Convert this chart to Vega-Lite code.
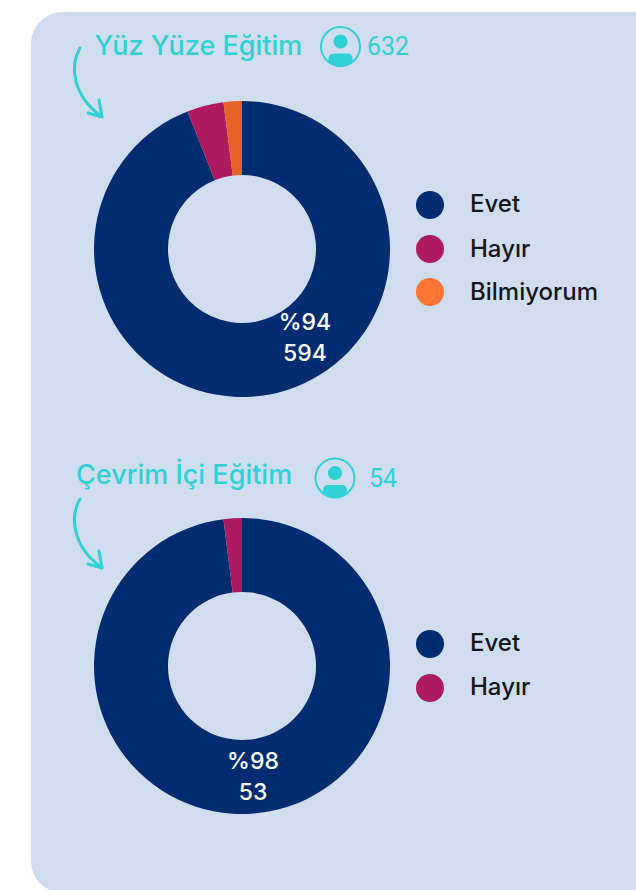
{
"$schema":"https://vega.github.io/schema/vega-lite/v6.json",
"width":636,"height":890,"padding":0,
"autosize":{"type":"fit","contains":"padding"},
"background":"#ffffff",
"config":{"view":{"stroke":null},"text":{"font":"Inter"}},
"datasets":{
"oran":[
{"panel":"Yüz Yüze Eğitim","kategori":"Evet","sira":1,"oran":94,"sayi":594,"yuzde":"%94"},
{"panel":"Yüz Yüze Eğitim","kategori":"Hayır","sira":2,"oran":4,"sayi":25,"yuzde":"%4"},
{"panel":"Yüz Yüze Eğitim","kategori":"Bilmiyorum","sira":3,"oran":2,"sayi":13,"yuzde":"%2"},
{"panel":"Çevrim İçi Eğitim","kategori":"Evet","sira":1,"oran":98,"sayi":53,"yuzde":"%98"},
{"panel":"Çevrim İçi Eğitim","kategori":"Hayır","sira":2,"oran":2,"sayi":1,"yuzde":"%2"}
],
"baslik":[
{"panel":"Yüz Yüze Eğitim","n":632},
{"panel":"Çevrim İçi Eğitim","n":54}
]},
"data":{"name":"oran"},
"layer":[
{"data":{"name":"baslik"},"transform":[{"filter":"datum.n==632"}],
"mark":{"type":"rect","fill":"#D0DDEF","cornerRadius":32,"clip":true},
"encoding":{
"x":{"datum":31,"type":"quantitative","scale":{"domain":[0,636]},"axis":null},
"x2":{"datum":720},
"y":{"datum":12,"type":"quantitative","scale":{"domain":[0,890],"reverse":true},"axis":null},
"y2":{"datum":893}}},
{"transform":[{"filter":"datum.panel=='Yüz Yüze Eğitim'"}],
"mark":{"type":"arc","innerRadius":74,"outerRadius":148},
"encoding":{
"x":{"datum":242,"type":"quantitative","scale":{"domain":[0,636]},"axis":null},
"y":{"datum":249,"type":"quantitative","scale":{"domain":[0,890],"reverse":true},"axis":null},
"theta":{"field":"oran","type":"quantitative","stack":"normalize"},
"order":{"field":"sira"},
"color":{"field":"kategori","type":"nominal","legend":null,"scale":{"domain":["Evet","Hayır","Bilmiyorum"],"range":["#002D72","#AE1A60","#E8602A"]}}}},
{"transform":[{"filter":"datum.panel=='Çevrim İçi Eğitim'"}],
"mark":{"type":"arc","innerRadius":74,"outerRadius":148},
"encoding":{
"x":{"datum":242,"type":"quantitative","scale":{"domain":[0,636]},"axis":null},
"y":{"datum":666,"type":"quantitative","scale":{"domain":[0,890],"reverse":true},"axis":null},
"theta":{"field":"oran","type":"quantitative","stack":"normalize"},
"order":{"field":"sira"},
"color":{"field":"kategori","type":"nominal","legend":null,"scale":{"domain":["Evet","Hayır","Bilmiyorum"],"range":["#002D72","#AE1A60","#E8602A"]}}}},

{"transform":[{"filter":"datum.sira==1 && datum.panel=='Yüz Yüze Eğitim'"}],"mark":{"type":"text","fill":"#ffffff","fontSize":23,"fontWeight":500,"align":"center","baseline":"middle"},
"encoding":{"x":{"datum":305,"type":"quantitative","scale":{"domain":[0,636]},"axis":null},"y":{"datum":323,"type":"quantitative","scale":{"domain":[0,890],"reverse":true},"axis":null},"text":{"field":"yuzde"}}},
{"transform":[{"filter":"datum.sira==1 && datum.panel=='Yüz Yüze Eğitim'"}],"mark":{"type":"text","fill":"#ffffff","fontSize":23,"fontWeight":500,"align":"center","baseline":"middle"},
"encoding":{"x":{"datum":305,"type":"quantitative","scale":{"domain":[0,636]},"axis":null},"y":{"datum":354,"type":"quantitative","scale":{"domain":[0,890],"reverse":true},"axis":null},"text":{"field":"sayi"}}},
{"transform":[{"filter":"datum.sira==1 && datum.panel=='Çevrim İçi Eğitim'"}],"mark":{"type":"text","fill":"#ffffff","fontSize":23,"fontWeight":500,"align":"center","baseline":"middle"},
"encoding":{"x":{"datum":253,"type":"quantitative","scale":{"domain":[0,636]},"axis":null},"y":{"datum":762,"type":"quantitative","scale":{"domain":[0,890],"reverse":true},"axis":null},"text":{"field":"yuzde"}}},
{"transform":[{"filter":"datum.sira==1 && datum.panel=='Çevrim İçi Eğitim'"}],"mark":{"type":"text","fill":"#ffffff","fontSize":23,"fontWeight":500,"align":"center","baseline":"middle"},
"encoding":{"x":{"datum":253,"type":"quantitative","scale":{"domain":[0,636]},"axis":null},"y":{"datum":793,"type":"quantitative","scale":{"domain":[0,890],"reverse":true},"axis":null},"text":{"field":"sayi"}}},

{"transform":[{"filter":"datum.sira==1 && datum.panel=='Yüz Yüze Eğitim'"}],"mark":{"type":"point","shape":"circle","filled":true,"size":784,"opacity":1},
"encoding":{"x":{"datum":430,"type":"quantitative","scale":{"domain":[0,636]},"axis":null},"y":{"datum":205,"type":"quantitative","scale":{"domain":[0,890],"reverse":true},"axis":null},"fill":{"field":"kategori","type":"nominal","legend":null,"scale":{"domain":["Evet","Hayır","Bilmiyorum"],"range":["#002D72","#AE1A60","#FF7433"]}}}},
{"transform":[{"filter":"datum.sira==2 && datum.panel=='Yüz Yüze Eğitim'"}],"mark":{"type":"point","shape":"circle","filled":true,"size":784,"opacity":1},
"encoding":{"x":{"datum":430,"type":"quantitative","scale":{"domain":[0,636]},"axis":null},"y":{"datum":249,"type":"quantitative","scale":{"domain":[0,890],"reverse":true},"axis":null},"fill":{"field":"kategori","type":"nominal","legend":null,"scale":{"domain":["Evet","Hayır","Bilmiyorum"],"range":["#002D72","#AE1A60","#FF7433"]}}}},
{"transform":[{"filter":"datum.sira==3 && datum.panel=='Yüz Yüze Eğitim'"}],"mark":{"type":"point","shape":"circle","filled":true,"size":784,"opacity":1},
"encoding":{"x":{"datum":430,"type":"quantitative","scale":{"domain":[0,636]},"axis":null},"y":{"datum":292,"type":"quantitative","scale":{"domain":[0,890],"reverse":true},"axis":null},"fill":{"field":"kategori","type":"nominal","legend":null,"scale":{"domain":["Evet","Hayır","Bilmiyorum"],"range":["#002D72","#AE1A60","#FF7433"]}}}},
{"transform":[{"filter":"datum.sira==1 && datum.panel=='Çevrim İçi Eğitim'"}],"mark":{"type":"point","shape":"circle","filled":true,"size":784,"opacity":1},
"encoding":{"x":{"datum":430,"type":"quantitative","scale":{"domain":[0,636]},"axis":null},"y":{"datum":644,"type":"quantitative","scale":{"domain":[0,890],"reverse":true},"axis":null},"fill":{"field":"kategori","type":"nominal","legend":null,"scale":{"domain":["Evet","Hayır","Bilmiyorum"],"range":["#002D72","#AE1A60","#FF7433"]}}}},
{"transform":[{"filter":"datum.sira==2 && datum.panel=='Çevrim İçi Eğitim'"}],"mark":{"type":"point","shape":"circle","filled":true,"size":784,"opacity":1},
"encoding":{"x":{"datum":430,"type":"quantitative","scale":{"domain":[0,636]},"axis":null},"y":{"datum":688,"type":"quantitative","scale":{"domain":[0,890],"reverse":true},"axis":null},"fill":{"field":"kategori","type":"nominal","legend":null,"scale":{"domain":["Evet","Hayır","Bilmiyorum"],"range":["#002D72","#AE1A60","#FF7433"]}}}},

{"transform":[{"filter":"datum.sira==1 && datum.panel=='Yüz Yüze Eğitim'"}],"mark":{"type":"text","fill":"#14161C","fontSize":24,"fontWeight":500,"align":"left","baseline":"middle"},
"encoding":{"x":{"datum":470,"type":"quantitative","scale":{"domain":[0,636]},"axis":null},"y":{"datum":205,"type":"quantitative","scale":{"domain":[0,890],"reverse":true},"axis":null},"text":{"field":"kategori"}}},
{"transform":[{"filter":"datum.sira==2 && datum.panel=='Yüz Yüze Eğitim'"}],"mark":{"type":"text","fill":"#14161C","fontSize":24,"fontWeight":500,"align":"left","baseline":"middle"},
"encoding":{"x":{"datum":470,"type":"quantitative","scale":{"domain":[0,636]},"axis":null},"y":{"datum":250,"type":"quantitative","scale":{"domain":[0,890],"reverse":true},"axis":null},"text":{"field":"kategori"}}},
{"transform":[{"filter":"datum.sira==3 && datum.panel=='Yüz Yüze Eğitim'"}],"mark":{"type":"text","fill":"#14161C","fontSize":24,"fontWeight":500,"align":"left","baseline":"middle"},
"encoding":{"x":{"datum":470,"type":"quantitative","scale":{"domain":[0,636]},"axis":null},"y":{"datum":293,"type":"quantitative","scale":{"domain":[0,890],"reverse":true},"axis":null},"text":{"field":"kategori"}}},
{"transform":[{"filter":"datum.sira==1 && datum.panel=='Çevrim İçi Eğitim'"}],"mark":{"type":"text","fill":"#14161C","fontSize":24,"fontWeight":500,"align":"left","baseline":"middle"},
"encoding":{"x":{"datum":470,"type":"quantitative","scale":{"domain":[0,636]},"axis":null},"y":{"datum":644,"type":"quantitative","scale":{"domain":[0,890],"reverse":true},"axis":null},"text":{"field":"kategori"}}},
{"transform":[{"filter":"datum.sira==2 && datum.panel=='Çevrim İçi Eğitim'"}],"mark":{"type":"text","fill":"#14161C","fontSize":24,"fontWeight":500,"align":"left","baseline":"middle"},
"encoding":{"x":{"datum":470,"type":"quantitative","scale":{"domain":[0,636]},"axis":null},"y":{"datum":688,"type":"quantitative","scale":{"domain":[0,890],"reverse":true},"axis":null},"text":{"field":"kategori"}}},

{"data":{"name":"baslik"},"transform":[{"filter":"datum.n==632"}],"mark":{"type":"text","fill":"#2FD0D6","fontSize":27,"fontWeight":500,"align":"left","baseline":"alphabetic"},
"encoding":{"x":{"datum":94.5,"type":"quantitative","scale":{"domain":[0,636]},"axis":null},"y":{"datum":55,"type":"quantitative","scale":{"domain":[0,890],"reverse":true},"axis":null},"text":{"field":"panel"}}},
{"data":{"name":"baslik"},"transform":[{"filter":"datum.n==54"}],"mark":{"type":"text","fill":"#2FD0D6","fontSize":27,"fontWeight":500,"align":"left","baseline":"alphabetic"},
"encoding":{"x":{"datum":76,"type":"quantitative","scale":{"domain":[0,636]},"axis":null},"y":{"datum":484,"type":"quantitative","scale":{"domain":[0,890],"reverse":true},"axis":null},"text":{"field":"panel"}}},
{"data":{"name":"baslik"},"transform":[{"filter":"datum.n==632"}],"mark":{"type":"text","fill":"#2FD0D6","font":"Roboto","fontSize":25,"align":"left","baseline":"alphabetic"},
"encoding":{"x":{"datum":367,"type":"quantitative","scale":{"domain":[0,636]},"axis":null},"y":{"datum":55,"type":"quantitative","scale":{"domain":[0,890],"reverse":true},"axis":null},"text":{"field":"n"}}},
{"data":{"name":"baslik"},"transform":[{"filter":"datum.n==54"}],"mark":{"type":"text","fill":"#2FD0D6","font":"Roboto","fontSize":25,"align":"left","baseline":"alphabetic"},
"encoding":{"x":{"datum":369,"type":"quantitative","scale":{"domain":[0,636]},"axis":null},"y":{"datum":487,"type":"quantitative","scale":{"domain":[0,890],"reverse":true},"axis":null},"text":{"field":"n"}}},

{"data":{"name":"baslik"},"transform":[{"filter":"datum.n==632"}],"mark":{"type":"point","shape":"circle","filled":false,"size":1521,"stroke":"#2FD0D6","strokeWidth":2,"opacity":1},
"encoding":{"x":{"datum":340.5,"type":"quantitative","scale":{"domain":[0,636]},"axis":null},"y":{"datum":46.5,"type":"quantitative","scale":{"domain":[0,890],"reverse":true},"axis":null}}},
{"data":{"name":"baslik"},"transform":[{"filter":"datum.n==54"}],"mark":{"type":"point","shape":"circle","filled":false,"size":1521,"stroke":"#2FD0D6","strokeWidth":2,"opacity":1},
"encoding":{"x":{"datum":335,"type":"quantitative","scale":{"domain":[0,636]},"axis":null},"y":{"datum":478,"type":"quantitative","scale":{"domain":[0,890],"reverse":true},"axis":null}}},
{"data":{"name":"baslik"},"transform":[{"filter":"datum.n==632"}],"mark":{"type":"point","shape":"M -0.35 -0.25 A 0.35 0.35 0 1 1 0.35 -0.25 A 0.35 0.35 0 1 1 -0.35 -0.25 Z M -0.6 0.72 L -0.6 0.6 Q -0.6 0.35 -0.3 0.35 L 0.3 0.35 Q 0.6 0.35 0.6 0.6 L 0.6 0.72 Q 0 1.2 -0.6 0.72 Z","filled":true,"size":1600,"fill":"#2FD0D6","opacity":1},
"encoding":{"x":{"datum":340.5,"type":"quantitative","scale":{"domain":[0,636]},"axis":null},"y":{"datum":46.5,"type":"quantitative","scale":{"domain":[0,890],"reverse":true},"axis":null}}},
{"data":{"name":"baslik"},"transform":[{"filter":"datum.n==54"}],"mark":{"type":"point","shape":"M -0.35 -0.25 A 0.35 0.35 0 1 1 0.35 -0.25 A 0.35 0.35 0 1 1 -0.35 -0.25 Z M -0.6 0.72 L -0.6 0.6 Q -0.6 0.35 -0.3 0.35 L 0.3 0.35 Q 0.6 0.35 0.6 0.6 L 0.6 0.72 Q 0 1.2 -0.6 0.72 Z","filled":true,"size":1600,"fill":"#2FD0D6","opacity":1},
"encoding":{"x":{"datum":335,"type":"quantitative","scale":{"domain":[0,636]},"axis":null},"y":{"datum":478,"type":"quantitative","scale":{"domain":[0,890],"reverse":true},"axis":null}}},
{"data":{"name":"baslik"},"transform":[{"filter":"datum.n==632"}],"mark":{"type":"point","shape":"M -0.175 -0.85 C -0.425 -0.425 -0.375 0.325 0.35 0.85 M 0.3 0.45 L 0.375 0.875 L 0.025 0.775","filled":false,"size":6400,"stroke":"#2FD0D6","strokeWidth":3,"strokeCap":"round","strokeJoin":"round","opacity":1},
"encoding":{"x":{"datum":87,"type":"quantitative","scale":{"domain":[0,636]},"axis":null},"y":{"datum":82,"type":"quantitative","scale":{"domain":[0,890],"reverse":true},"axis":null}}},
{"data":{"name":"baslik"},"transform":[{"filter":"datum.n==54"}],"mark":{"type":"point","shape":"M -0.175 -0.85 C -0.425 -0.425 -0.375 0.325 0.35 0.85 M 0.3 0.45 L 0.375 0.875 L 0.025 0.775","filled":false,"size":6400,"stroke":"#2FD0D6","strokeWidth":3,"strokeCap":"round","strokeJoin":"round","opacity":1},
"encoding":{"x":{"datum":87,"type":"quantitative","scale":{"domain":[0,636]},"axis":null},"y":{"datum":533,"type":"quantitative","scale":{"domain":[0,890],"reverse":true},"axis":null}}}
]}
